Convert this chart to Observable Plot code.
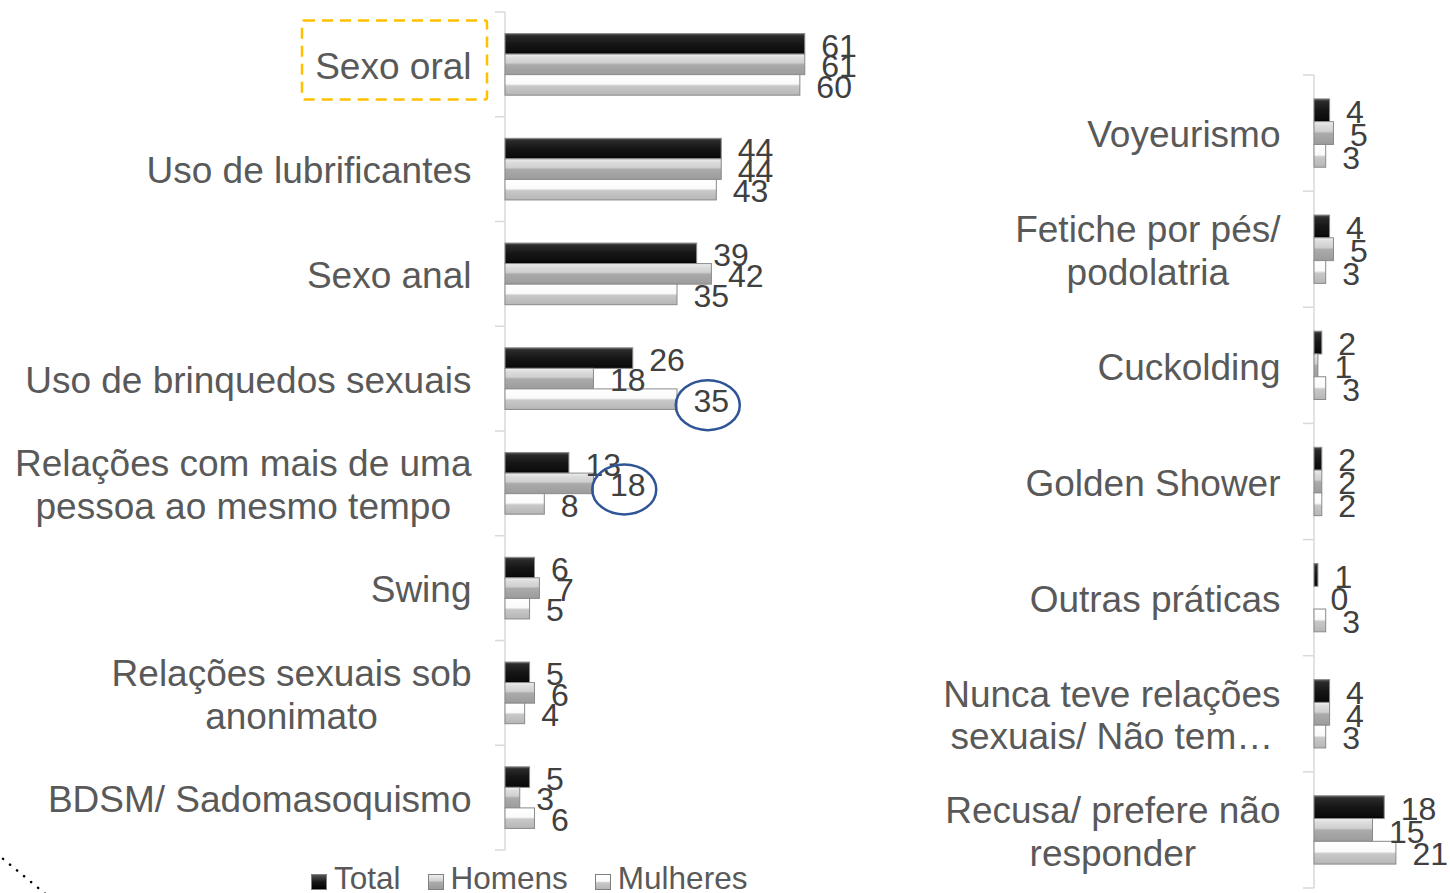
<!DOCTYPE html>
<html>
<head>
<meta charset="utf-8">
<script src="https://cdn.jsdelivr.net/npm/d3@7"></script>
<script src="https://cdn.jsdelivr.net/npm/@observablehq/plot@0.6"></script>
<style>
  body { margin: 0; background: #fff; font-family: "Liberation Sans", Arial, sans-serif; }
  #wrap { position: relative; width: 1450px; height: 893px; overflow: hidden; background: #fff; }
  #wrap > svg { position: absolute; top: 0; }
  #legend { position: absolute; left: 311px; top: 860px; height: 36px; line-height: 36px; font-size: 31.5px; color: #595959; white-space: nowrap; }
  #legend .item { display: inline-block; margin-right: 27px; }
  #legend .sw { display: inline-block; width: 16px; height: 16px; margin-right: 7px; vertical-align: -1px; box-sizing: border-box; border: 1px solid #808080; }
</style>
</head>
<body>
<svg width="0" height="0" style="position:absolute">
  <defs>
    <linearGradient id="gTotal" x1="0" y1="0" x2="0" y2="1">
      <stop offset="0" stop-color="#555"/>
      <stop offset="0.12" stop-color="#2a2a2a"/>
      <stop offset="0.5" stop-color="#161616"/>
      <stop offset="0.88" stop-color="#0c0c0c"/>
      <stop offset="1" stop-color="#000"/>
    </linearGradient>
    <linearGradient id="gHomens" x1="0" y1="0" x2="0" y2="1">
      <stop offset="0" stop-color="#f2f2f2"/>
      <stop offset="0.15" stop-color="#dddddd"/>
      <stop offset="0.42" stop-color="#d0d0d0"/>
      <stop offset="0.52" stop-color="#aaaaaa"/>
      <stop offset="1" stop-color="#9c9c9c"/>
    </linearGradient>
    <linearGradient id="gMulheres" x1="0" y1="0" x2="0" y2="1">
      <stop offset="0" stop-color="#ffffff"/>
      <stop offset="0.45" stop-color="#fafafa"/>
      <stop offset="0.55" stop-color="#c8c8c8"/>
      <stop offset="1" stop-color="#b6b6b6"/>
    </linearGradient>
  </defs>
</svg>
<div id="wrap">
  <div id="legend"></div>
</div>
<script>
// ---- data ----
const series = ["Total", "Homens", "Mulheres"];

const leftCategories = [
  "Sexo oral",
  "Uso de lubrificantes",
  "Sexo anal",
  "Uso de brinquedos sexuais",
  "Relações com mais de uma\npessoa ao mesmo tempo",
  "Swing",
  "Relações sexuais sob\nanonimato",
  "BDSM/ Sadomasoquismo"
];
const leftTotal    = [61, 44, 39, 26, 13, 6, 5, 5];
const leftHomens   = [61, 44, 42, 18, 18, 7, 6, 3];
const leftMulheres = [60, 43, 35, 35, 8, 5, 4, 6];

const rightCategories = [
  "Voyeurismo",
  "Fetiche por pés/\npodolatria",
  "Cuckolding",
  "Golden Shower",
  "Outras práticas",
  "Nunca teve relações\nsexuais/ Não tem…",
  "Recusa/ prefere não\nresponder"
];
const rightTotal    = [4, 4, 2, 2, 1, 4, 18];
const rightHomens   = [5, 5, 1, 2, 0, 4, 15];
const rightMulheres = [3, 3, 3, 2, 3, 3, 21];

const seriesFills = ["url(#gTotal)", "url(#gHomens)", "url(#gMulheres)"];
const legendBg = [
  "linear-gradient(#555, #161616 50%, #000)",
  "linear-gradient(#eee, #d0d0d0 42%, #aaa 52%, #9c9c9c)",
  "linear-gradient(#fff, #fafafa 45%, #c8c8c8 55%, #b6b6b6)"
];

const LABEL_DX = 16, LABEL_DY = 2, LABEL_SIZE = 32;

// ---- chart builder ----
function makeChart({cats, vals, width, marginLeft, marginRight, marginTop, marginBottom, xMax}) {
  const rows = cats.flatMap((c, i) => series.map((s, j) => ({category: c, series: s, value: vals[j][i]})));
  return Plot.plot({
    width, height: 893, marginLeft, marginRight, marginTop, marginBottom,
    style: {fontFamily: '"Liberation Sans", Arial, sans-serif', background: "transparent", overflow: "visible", color: "#595959"},
    x: {domain: [0, xMax], axis: null},
    y: {domain: series, paddingInner: 0, paddingOuter: 1.05, round: false, axis: null},
    fy: {domain: cats, padding: 0, round: false, label: null},
    color: {domain: series, range: seriesFills},
    marks: [
      Plot.barX(rows, {x: "value", y: "series", fy: "category", fill: "series", stroke: "#8a8a8a", strokeWidth: 1}),
      Plot.text(rows, {x: "value", y: "series", fy: "category", text: d => String(d.value),
        textAnchor: "start", dx: LABEL_DX, dy: LABEL_DY, fontSize: LABEL_SIZE, fill: "#404040"}),
      Plot.axisFy({anchor: "left", tickSize: 0, tickPadding: 34, fontSize: 37, lineHeight: 1.16, fill: "#595959", label: null})
    ]
  });
}

function decorate(chart, tickLen) {
  const fy = chart.scale("fy"), x = chart.scale("x");
  const x0 = x.apply(0);
  const svg = d3.select(chart);
  const g = svg.insert("g", ":first-child").attr("stroke", "#d9d9d9").attr("stroke-width", 1.5).attr("fill", "none");
  const top = fy.apply(fy.domain[0]);
  const bottom = fy.apply(fy.domain[fy.domain.length - 1]) + fy.bandwidth;
  g.append("line").attr("x1", x0).attr("x2", x0).attr("y1", top).attr("y2", bottom);
  const bounds = fy.domain.map(d => fy.apply(d)).concat([bottom]);
  bounds.forEach(y => g.append("line").attr("x1", x0 - tickLen).attr("x2", x0).attr("y1", y).attr("y2", y));
  // center-align lines of multi-line category labels
  svg.selectAll("text").each(function() {
    const ts = this.querySelectorAll("tspan");
    if (ts.length > 1) {
      const ws = Array.from(ts, t => t.getComputedTextLength());
      const m = Math.max(...ws);
      ts.forEach((t, i) => t.setAttribute("x", -(m - ws[i]) / 2));
    }
  });
}

const wrap = document.getElementById("wrap");

const left = makeChart({
  cats: leftCategories, vals: [leftTotal, leftHomens, leftMulheres],
  width: 900, marginLeft: 505, marginRight: 51, marginTop: 12, marginBottom: 43, xMax: 70
});
left.style.left = "0px";
wrap.appendChild(left);
decorate(left, 10);

const right = makeChart({
  cats: rightCategories, vals: [rightTotal, rightHomens, rightMulheres],
  width: 550, marginLeft: 414, marginRight: 19, marginTop: 75, marginBottom: 5, xMax: 30
});
right.style.left = "900px";
wrap.appendChild(right);
decorate(right, 11);

// ---- annotations (positioned from the left chart's scales) ----
const ov = d3.select(wrap).append("svg")
  .attr("width", 1450).attr("height", 893)
  .style("left", "0px").style("pointer-events", "none");

const fyL = left.scale("fy"), xL = left.scale("x"), yL = left.scale("y");
function labelCenter(cat, s, v) {
  const step = yL.step;
  const i = series.indexOf(s);
  const cx = xL.apply(v) + LABEL_DX + String(v).length * 0.556 * LABEL_SIZE / 2;
  const cy = fyL.apply(cat) + (fyL.bandwidth - series.length * step) / 2 + (i + 0.5) * step + LABEL_DY;
  return [cx, cy];
}
[[leftCategories[3], "Mulheres", leftMulheres[3]], [leftCategories[4], "Homens", leftHomens[4]]].forEach(([c, s, v]) => {
  const [cx, cy] = labelCenter(c, s, v);
  ov.append("ellipse").attr("cx", cx - 3).attr("cy", cy + 4).attr("rx", 32).attr("ry", 25)
    .attr("fill", "none").attr("stroke", "#2F5597").attr("stroke-width", 2.5);
});

// dashed highlight around the first category label
{
  const yc = fyL.apply(leftCategories[0]) + fyL.bandwidth / 2;
  const x0 = xL.apply(0);
  ov.append("rect").attr("x", 302).attr("y", yc - 44).attr("width", x0 - 18 - 302).attr("height", 79)
    .attr("rx", 2).attr("fill", "none").attr("stroke", "#FFC000").attr("stroke-width", 2.5)
    .attr("stroke-dasharray", "11,7");
}
// dotted connector at bottom-left
ov.append("line").attr("x1", -4).attr("y1", 853).attr("x2", 48).attr("y2", 896)
  .attr("stroke", "#000").attr("stroke-width", 2.5).attr("stroke-linecap", "round").attr("stroke-dasharray", "0.1,9");

// ---- legend ----
const legend = document.getElementById("legend");
series.forEach((s, i) => {
  const item = document.createElement("span");
  item.className = "item";
  const sw = document.createElement("span");
  sw.className = "sw";
  sw.style.background = legendBg[i];
  item.appendChild(sw);
  item.appendChild(document.createTextNode(s));
  legend.appendChild(item);
});
</script>
</body>
</html>
